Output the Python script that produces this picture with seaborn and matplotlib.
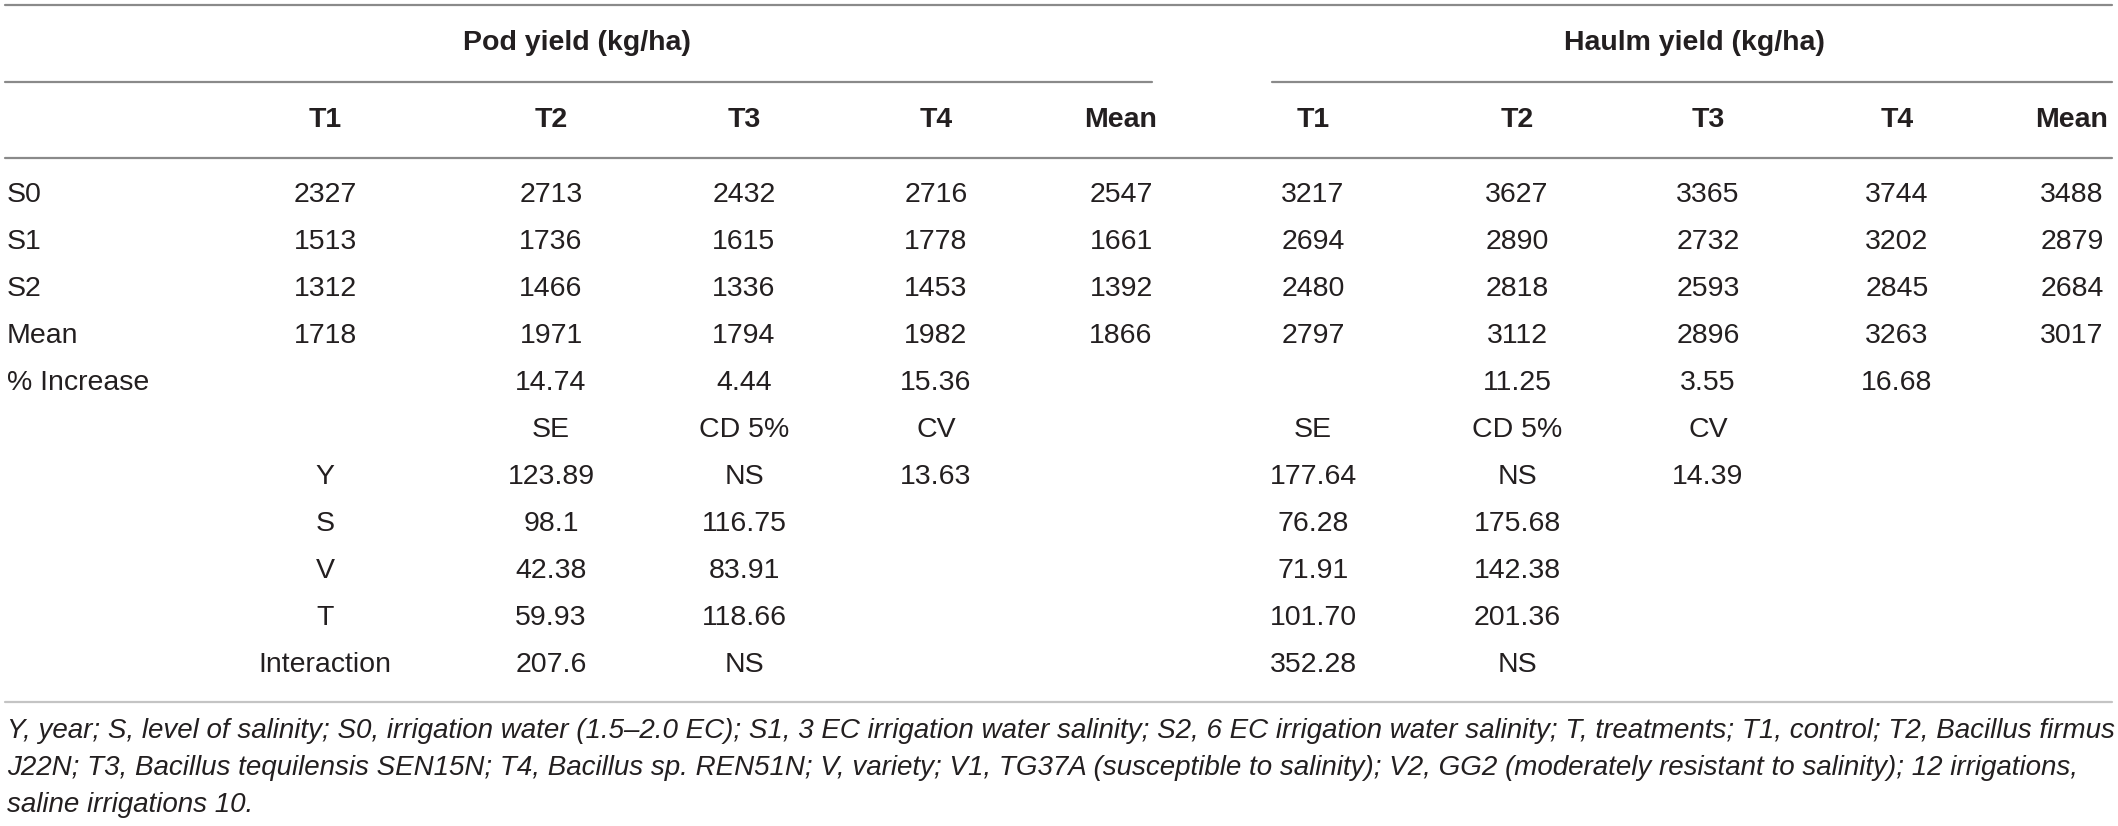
"""Table: Pod and haulm yield under salinity levels and treatments"""
import matplotlib
matplotlib.use("Agg")
import matplotlib.pyplot as plt
import seaborn as sns

# ---- data -------------------------------------------------------------
groups = ["Pod yield (kg/ha)", "Haulm yield (kg/ha)"]
col_heads = ["T1", "T2", "T3", "T4", "Mean"]
row_labels = ["S0", "S1", "S2", "Mean"]

pod_t1 = ["2327", "1513", "1312", "1718"]
pod_t2 = ["2713", "1736", "1466", "1971"]
pod_t3 = ["2432", "1615", "1336", "1794"]
pod_t4 = ["2716", "1778", "1453", "1982"]
pod_mean = ["2547", "1661", "1392", "1866"]

haulm_t1 = ["3217", "2694", "2480", "2797"]
haulm_t2 = ["3627", "2890", "2818", "3112"]
haulm_t3 = ["3365", "2732", "2593", "2896"]
haulm_t4 = ["3744", "3202", "2845", "3263"]
haulm_mean = ["3488", "2879", "2684", "3017"]

increase_label = "% Increase"
pod_increase = ["", "14.74", "4.44", "15.36", ""]
haulm_increase = ["", "11.25", "3.55", "16.68", ""]

stat_heads = ["SE", "CD 5%", "CV"]
stat_labels = ["Y", "S", "V", "T", "Interaction"]
pod_se = ["123.89", "98.1", "42.38", "59.93", "207.6"]
pod_cd = ["NS", "116.75", "83.91", "118.66", "NS"]
pod_cv = ["13.63", "", "", "", ""]
haulm_se = ["177.64", "76.28", "71.91", "101.70", "352.28"]
haulm_cd = ["NS", "175.68", "142.38", "201.36", "NS"]
haulm_cv = ["14.39", "", "", "", ""]

footnote = [
    "Y, year; S, level of salinity; S0, irrigation water (1.5\u20132.0 EC); S1, 3 EC irrigation water salinity; "
    "S2, 6 EC irrigation water salinity; T, treatments; T1, control; T2, Bacillus firmus",
    "J22N; T3, Bacillus tequilensis SEN15N; T4, Bacillus sp. REN51N; V, variety; V1, TG37A (susceptible to salinity); "
    "V2, GG2 (moderately resistant to salinity); 12 irrigations,",
    "saline irrigations 10.",
]

# ---- layout -----------------------------------------------------------
W, H = 2118, 826
pod_x = [325, 551, 744, 936, 1121]
haulm_x = [1313, 1517, 1708, 1897, 2072]
row_y0, row_dy = 195, 47
ink = "#231f20"
fs = 20.5

sns.set_theme(style="white")
plt.rcParams["font.family"] = ["Liberation Sans", "DejaVu Sans"]

fig = plt.figure(figsize=(W / 100, H / 100), dpi=100)
ax = fig.add_axes([0, 0, 1, 1])
ax.set_xlim(0, W)
ax.set_ylim(H, 0)
ax.axis("off")


def cell(x, y, s, **kw):
    ax.text(x, y, s, ha=kw.pop("ha", "center"), va="center",
            fontsize=kw.pop("fontsize", fs), color=ink, **kw)


# rules
ax.plot([5, 2112], [5, 5], color="#8a8a8a", lw=1.6)
ax.plot([5, 1152], [82, 82], color="#8a8a8a", lw=1.6)
ax.plot([1272, 2112], [82, 82], color="#8a8a8a", lw=1.6)
ax.plot([5, 2112], [158, 158], color="#8a8a8a", lw=1.6)
ax.plot([5, 2112], [702, 702], color="#c4c4c4", lw=1.6)

# group headers
cell(577, 43, groups[0], fontweight="bold")
cell(1694, 43, groups[1], fontweight="bold")
for xs in (pod_x, haulm_x):
    for x, h in zip(xs, col_heads):
        cell(x, 120, h, fontweight="bold")

rows_y = [row_y0 + i * row_dy for i in range(11)]

# main block
pod_cols = [pod_t1, pod_t2, pod_t3, pod_t4, pod_mean]
haulm_cols = [haulm_t1, haulm_t2, haulm_t3, haulm_t4, haulm_mean]
for i, lab in enumerate(row_labels):
    cell(7, rows_y[i], lab, ha="left")
    for x, col in zip(pod_x, pod_cols):
        cell(x, rows_y[i], col[i])
    for x, col in zip(haulm_x, haulm_cols):
        cell(x, rows_y[i], col[i])

# % increase
cell(7, rows_y[4], increase_label, ha="left")
for x, v in zip(pod_x, pod_increase):
    cell(x, rows_y[4], v)
for x, v in zip(haulm_x, haulm_increase):
    cell(x, rows_y[4], v)

# statistics
for j, h in enumerate(stat_heads):
    cell(pod_x[j + 1], rows_y[5], h)
    cell(haulm_x[j], rows_y[5], h)
for i, lab in enumerate(stat_labels):
    y = rows_y[6 + i]
    cell(pod_x[0], y, lab)
    for j, col in enumerate([pod_se, pod_cd, pod_cv]):
        cell(pod_x[j + 1], y, col[i])
    for j, col in enumerate([haulm_se, haulm_cd, haulm_cv]):
        cell(haulm_x[j], y, col[i])

# footnote
for k, line in enumerate(footnote):
    cell(7, 731 + k * 37, line, ha="left", style="italic", fontsize=20.0)

fig.savefig("out.png", dpi=100)
